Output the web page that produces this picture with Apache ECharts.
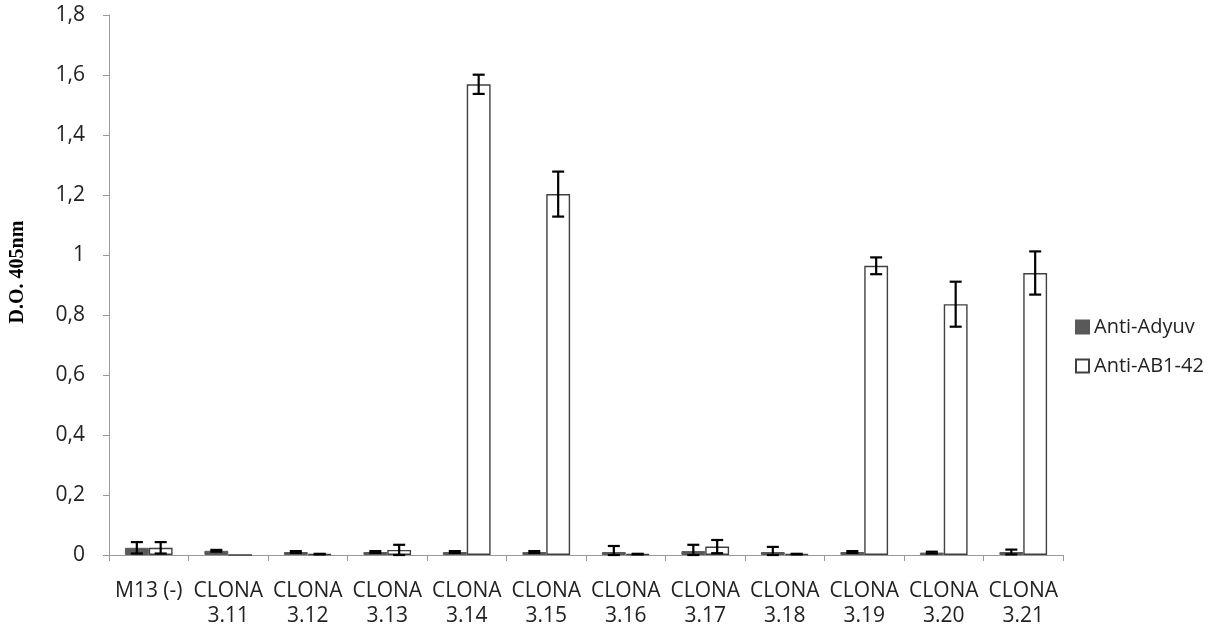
<!DOCTYPE html>
<html><head><meta charset="utf-8">
<script src="https://cdn.jsdelivr.net/npm/echarts@6/dist/echarts.min.js"></script>
<style>html,body{margin:0;padding:0;background:#fff}#c{width:1232px;height:630px}</style>
</head><body><div id="c"></div>
<script>
const categories = ['M13 (-)','CLONA\n3.11','CLONA\n3.12','CLONA\n3.13','CLONA\n3.14','CLONA\n3.15','CLONA\n3.16','CLONA\n3.17','CLONA\n3.18','CLONA\n3.19','CLONA\n3.20','CLONA\n3.21'];
const seriesNames = ['Anti-Adyuv','Anti-AB1-42'];
const yAxisTitle = 'D.O. 405nm';
const adyuv    = [0.024,0.014,0.010,0.010,0.010,0.010,0.010,0.013,0.010,0.010,0.008,0.010];
const adyuvErr = [0.019,0.003,0.003,0.003,0.003,0.003,0.020,0.021,0.017,0.003,0.003,0.008];
const ab       = [0.024,0.000,0.003,0.017,1.569,1.203,0.003,0.028,0.003,0.964,0.836,0.940];
const abErr    = [0.019,0.000,0.001,0.017,0.032,0.075,0.001,0.022,0.001,0.028,0.075,0.072];
const yTicks = [0,0.2,0.4,0.6,0.8,1,1.2,1.4,1.6,1.8];

const BAR_FRAC = 0.30;
function errData(vals, errs, s){ return vals.map((v,i)=>[i, v, errs[i], s]); }
function renderErr(params, api){
  const i = api.value(0), v = api.value(1), e = api.value(2), s = api.value(3);
  if (e <= 0) return null;
  const band = api.size([1,0])[0];
  const off = (s === 0 ? -1 : 1) * band * BAR_FRAC / 2;
  const top = api.coord([i, v + e]), bot = api.coord([i, Math.max(0, v - e)]);
  const x = top[0] + off, cap = 6;
  const st = {stroke:'#000', lineWidth:2.2};
  return {type:'group', children:[
    {type:'line', shape:{x1:x,y1:top[1],x2:x,y2:bot[1]}, style:st},
    {type:'line', shape:{x1:x-cap,y1:top[1],x2:x+cap,y2:top[1]}, style:st},
    {type:'line', shape:{x1:x-cap,y1:bot[1],x2:x+cap,y2:bot[1]}, style:st}
  ]};
}
const chart = echarts.init(document.getElementById('c'), null, {renderer:'canvas'});
const font = '"Open Sans", sans-serif';
chart.setOption({
  animation:false,
  grid:{left:109, right:169, top:15, bottom:75, containLabel:false, outerBoundsMode:'none'},
  graphic:[{type:'text', x:18, y:272, rotation:Math.PI/2,
    style:{text:yAxisTitle, font:'bold 20px "Liberation Serif", serif', fill:'#000', align:'center', verticalAlign:'middle'}}],
  legend:{orient:'vertical', left:1070, top:312, itemWidth:13, itemHeight:13, itemGap:19,
    icon:'rect', textStyle:{fontFamily:font, fontSize:20, lineHeight:20, color:'#222'},
    data:seriesNames},
  xAxis:{type:'category', data:categories,
    axisLine:{lineStyle:{color:'#999'}},
    axisTick:{show:true, length:6, lineStyle:{color:'#999'}},
    axisLabel:{interval:0, fontFamily:font, fontSize:21, color:'#222', lineHeight:25, margin:24}},
  yAxis:{type:'value', min:0, max:1.8, interval:0.2,
    splitLine:{show:false},
    axisLine:{show:true, lineStyle:{color:'#999'}},
    axisTick:{show:true, length:6, lineStyle:{color:'#999'}},
    axisLabel:{fontFamily:font, fontSize:21, color:'#222', margin:24,
      formatter:v=>String(+v.toFixed(1)).replace('.',',')}},
  series:[
    {name:seriesNames[0], type:'bar', data:adyuv, barWidth:(BAR_FRAC*100)+'%', barGap:'0%',
      itemStyle:{color:'#595959', borderColor:'#595959', borderWidth:1}},
    {name:seriesNames[1], type:'bar', data:ab, barWidth:(BAR_FRAC*100)+'%', barGap:'0%',
      itemStyle:{color:'#ffffff', borderColor:'#404040', borderWidth:1.4}},
    {type:'custom', data:errData(adyuv, adyuvErr, 0), renderItem:renderErr, z:5, silent:true,
      encode:{x:0, y:1}},
    {type:'custom', data:errData(ab, abErr, 1), renderItem:renderErr, z:5, silent:true,
      encode:{x:0, y:1}}
  ]
});
</script></body></html>
